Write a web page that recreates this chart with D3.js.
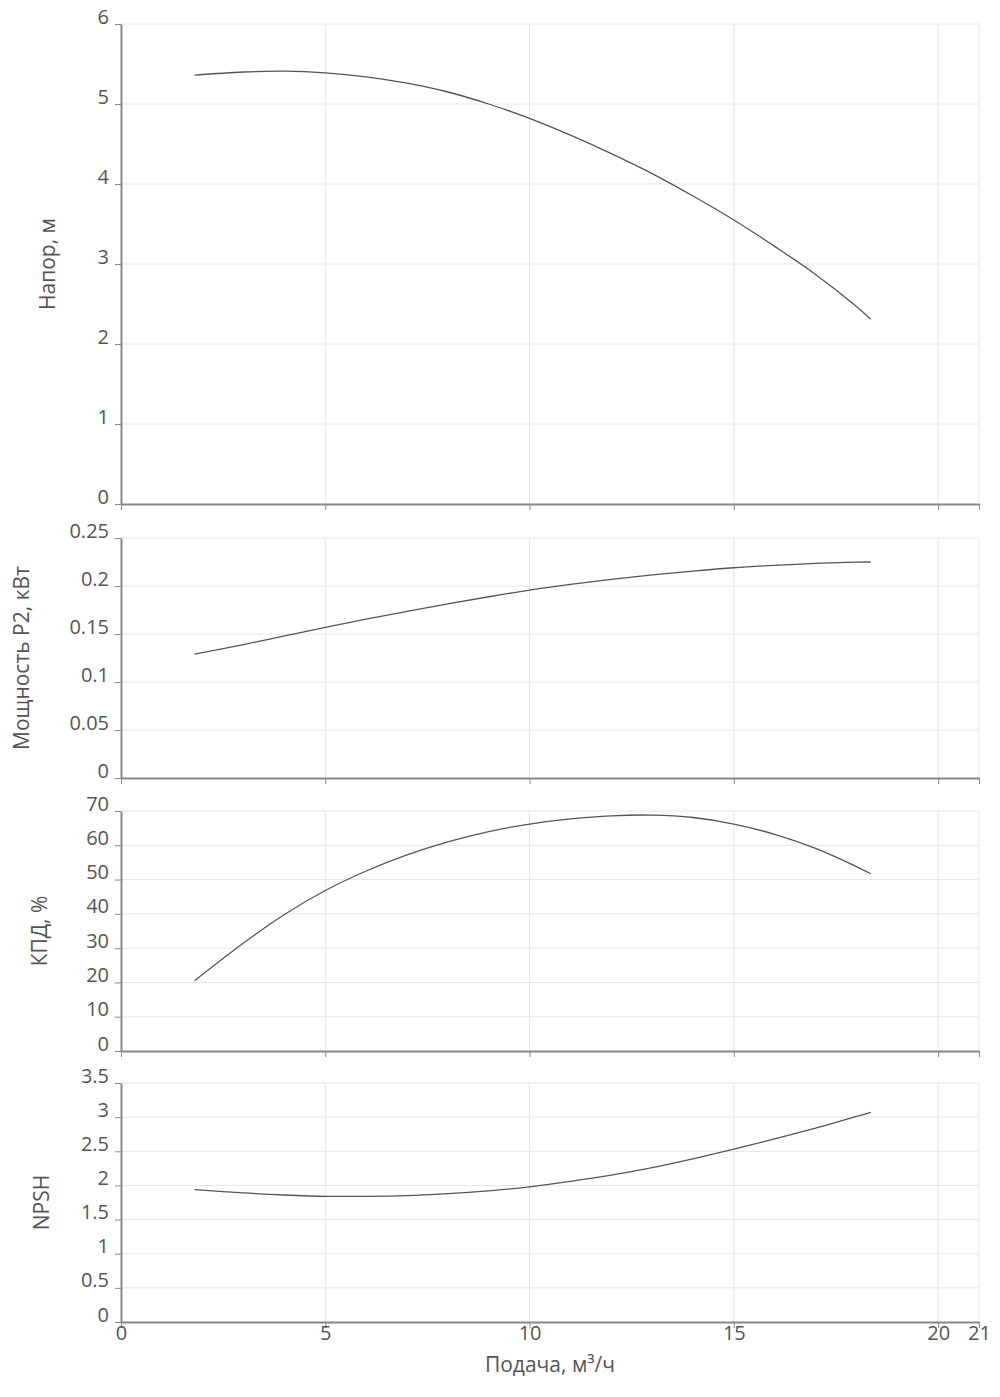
<!DOCTYPE html>
<html>
<head>
<meta charset="utf-8">
<script src="https://cdn.jsdelivr.net/npm/d3@7"></script>
<style>
  body { margin: 0; background: #fff; }
  text { font-family: "Open Sans", sans-serif; }
</style>
</head>
<body>
<script>
// data
var flow = [1.8, 3, 4, 5, 6, 7, 8, 9, 10, 11, 12, 13, 14, 15, 16, 17, 18, 18.35];
var head = [5.36, 5.40, 5.41, 5.39, 5.34, 5.26, 5.15, 5.00, 4.82, 4.61, 4.38, 4.13, 3.85, 3.55, 3.22, 2.87, 2.47, 2.31];
var power = [0.129, 0.139, 0.148, 0.157, 0.1655, 0.1735, 0.1813, 0.1888, 0.1958, 0.2018, 0.207, 0.2115, 0.2155, 0.219, 0.2215, 0.2235, 0.2248, 0.225];
var eff = [20.5, 31.5, 39.8, 46.8, 52.5, 57.2, 61, 64, 66.2, 67.7, 68.6, 68.8, 68.1, 66.2, 63.2, 59.1, 53.8, 51.7];
var npsh = [1.94, 1.89, 1.86, 1.84, 1.84, 1.85, 1.88, 1.92, 1.98, 2.06, 2.15, 2.26, 2.39, 2.53, 2.68, 2.84, 3.01, 3.07];

var xTicks = [0, 5, 10, 15, 20, 21];

var panels = [
    {title: "Напор, м", values: head, max: 6, ticks: [0, 1, 2, 3, 4, 5, 6], top: 24, bottom: 504, titleX: 48},
    {title: "Мощность P2, кВт", values: power, max: 0.25, ticks: [0, 0.05, 0.1, 0.15, 0.2, 0.25], top: 538, bottom: 778, titleX: 22},
    {title: "КПД, %", values: eff, max: 70, ticks: [0, 10, 20, 30, 40, 50, 60, 70], top: 811, bottom: 1051, titleX: 40},
    {title: "NPSH", values: npsh, max: 3.5, ticks: [0, 0.5, 1, 1.5, 2, 2.5, 3, 3.5], top: 1083, bottom: 1322, titleX: 42}
];

var svg = d3.select("body")
    .append("svg")
    .attr("width", 1000)
    .attr("height", 1397);

var x = d3.scaleLinear()
    .domain([0, 21])
    .range([121, 979]);

panels.forEach(function(p, i) {
    var y = d3.scaleLinear()
        .domain([0, p.max])
        .range([p.bottom, p.top]);

    var g = svg.append("g");

    // grid
    g.selectAll(".hgrid")
        .data(p.ticks.slice(1))
        .enter()
        .append("line")
            .attr("x1", x(0))
            .attr("x2", x(21))
            .attr("y1", d => y(d))
            .attr("y2", d => y(d))
            .attr("stroke", "#e6e6e6")
            .attr("stroke-width", 1);

    g.selectAll(".vgrid")
        .data(xTicks.slice(1))
        .enter()
        .append("line")
            .attr("x1", d => x(d))
            .attr("x2", d => x(d))
            .attr("y1", p.top)
            .attr("y2", p.bottom)
            .attr("stroke", "#e6e6e6")
            .attr("stroke-width", 1);

    // y axis
    g.append("g")
        .attr("transform", "translate(" + x(0) + ",0)")
        .call(d3.axisLeft(y).tickValues(p.ticks).tickFormat(d => d).tickSize(6).tickSizeOuter(0))
        .call(a => a.select(".domain").attr("stroke", "#888").attr("stroke-width", 2))
        .call(a => a.selectAll(".tick line").attr("stroke", "#888"))
        .call(a => a.selectAll(".tick text")
            .attr("font-size", "20px")
            .attr("fill", "#555")
            .attr("x", -12)
            .attr("dy", "-0.05em"));

    // x axis
    var xa = g.append("g")
        .attr("transform", "translate(0," + p.bottom + ")")
        .call(d3.axisBottom(x).tickValues(xTicks).tickSize(6).tickSizeOuter(0))
        .call(a => a.select(".domain").attr("stroke", "#888").attr("stroke-width", 2))
        .call(a => a.selectAll(".tick line").attr("stroke", "#888"));

    if (i == panels.length - 1) {
        xa.selectAll(".tick text")
            .attr("font-size", "20px")
            .attr("fill", "#555")
            .attr("y", 4);
    } else {
        xa.selectAll(".tick text").remove();
    }

    // title
    g.append("text")
        .attr("transform", "translate(" + p.titleX + "," + ((p.top + p.bottom) / 2) + ") rotate(-90)")
        .attr("text-anchor", "middle")
        .attr("dy", "0.35em")
        .attr("font-size", "21px")
        .attr("fill", "#555")
        .text(p.title);

    // curve
    var line = d3.line()
        .x((d, j) => x(flow[j]))
        .y(d => y(d))
        .curve(d3.curveCatmullRom);

    g.append("path")
        .datum(p.values)
        .attr("d", line)
        .attr("fill", "none")
        .attr("stroke", "#555")
        .attr("stroke-width", 1.3);
});

svg.append("text")
    .attr("x", (x(0) + x(21)) / 2)
    .attr("y", 1372)
    .attr("text-anchor", "middle")
    .attr("font-size", "21px")
    .attr("fill", "#555")
    .text("Подача, м³/ч");
</script>
</body>
</html>
